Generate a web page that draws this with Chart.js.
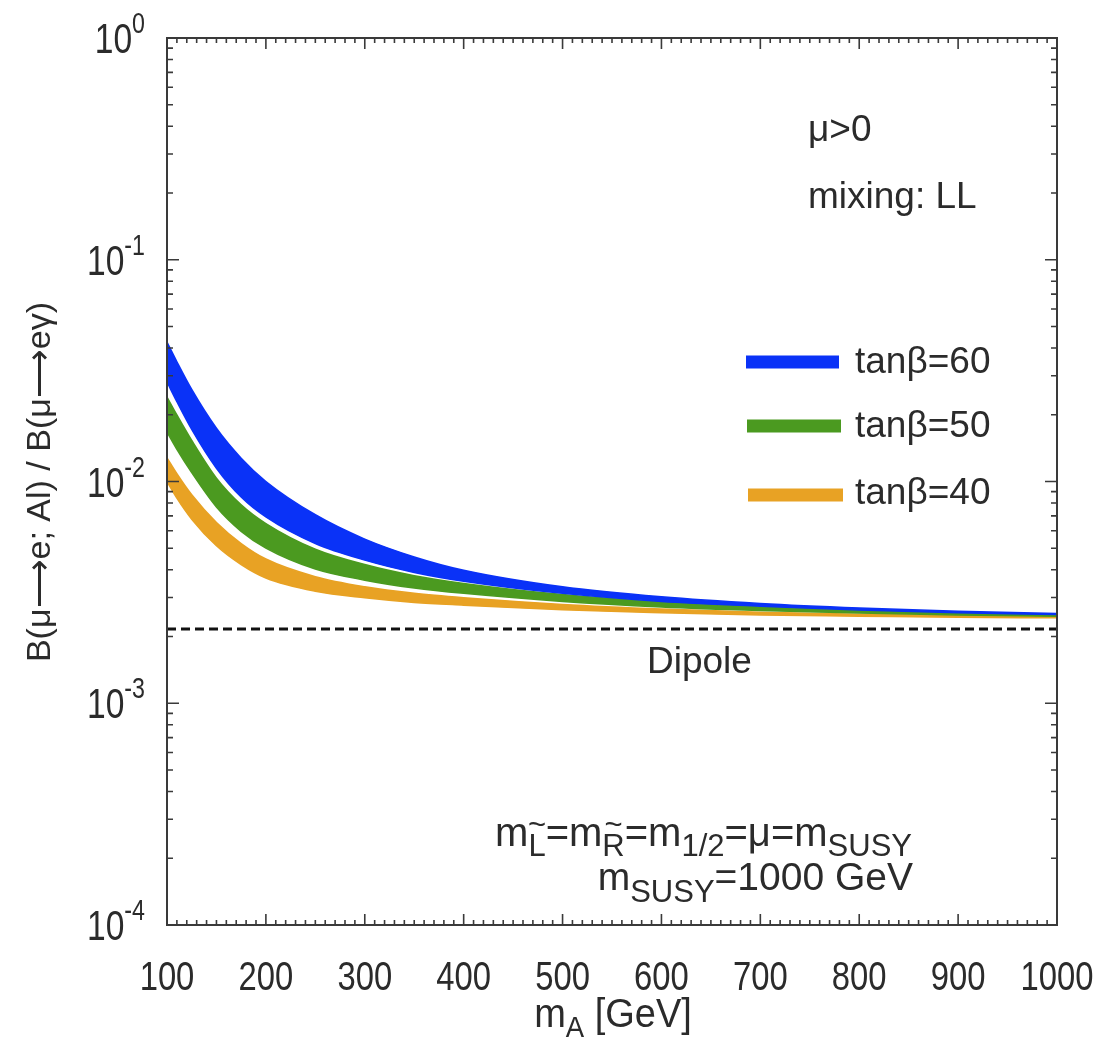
<!DOCTYPE html>
<html>
<head>
<meta charset="utf-8">
<script src="https://cdn.jsdelivr.net/npm/chart.js@4.4.0/dist/chart.umd.min.js"></script>
<style>
  body { margin: 0; background: #fff; }
  canvas { display: block; }
</style>
</head>
<body>
<canvas id="chart" width="1111" height="1041"></canvas>
<script>
// m_A values (GeV) where the band edges are sampled
const massGeV = [100, 110, 125, 150, 175, 200, 250, 300, 350, 400, 500, 600, 700, 800, 900, 1000];

// upper / lower edge of each tanβ band
const tb60Upper = [0.04256, 0.03467, 0.02600, 0.01738, 0.01274, 0.01000, 0.00708, 0.00550, 0.00457, 0.00398, 0.00335, 0.00302, 0.00282, 0.00269, 0.00260, 0.00254];
const tb60Lower = [0.02812, 0.02291, 0.01718, 0.01148, 0.00851, 0.00692, 0.00525, 0.00442, 0.00389, 0.00355, 0.00313, 0.00288, 0.00274, 0.00263, 0.00256, 0.00251];
const tb50Upper = [0.02404, 0.01995, 0.01531, 0.01035, 0.00785, 0.00646, 0.00495, 0.00422, 0.00376, 0.00347, 0.00309, 0.00286, 0.00272, 0.00263, 0.00256, 0.00251];
const tb50Lower = [0.01671, 0.01396, 0.01096, 0.00767, 0.00596, 0.00501, 0.00403, 0.00359, 0.00331, 0.00313, 0.00288, 0.00272, 0.00262, 0.00255, 0.00250, 0.00247];
const tb40Upper = [0.01279, 0.01084, 0.00871, 0.00653, 0.00525, 0.00447, 0.00372, 0.00335, 0.00313, 0.00299, 0.00279, 0.00266, 0.00257, 0.00252, 0.00249, 0.00247];
const tb40Lower = [0.01000, 0.00841, 0.00676, 0.00513, 0.00422, 0.00367, 0.00320, 0.00299, 0.00285, 0.00277, 0.00264, 0.00256, 0.00250, 0.00247, 0.00244, 0.00243];

// dipole-only limit
const dipoleRatio = 0.00216;

const xTickValues = [100, 200, 300, 400, 500, 600, 700, 800, 900, 1000];
const yDecades = [-4, -3, -2, -1, 0];

const bandLabels = ['tanβ=60', 'tanβ=50', 'tanβ=40'];
const bandColors = ['#0a32f7', '#4b9a20', '#e8a224'];

const textColor = '#2b2b2b';
const REG = '"Liberation Sans", Arial, sans-serif';

function pts(ys) {
  return ys.map((v, i) => ({ x: massGeV[i], y: v }));
}

function band(upper, lower, color) {
  const common = { borderColor: color, borderWidth: 1.5, pointRadius: 0, cubicInterpolationMode: 'monotone' };
  return [
    Object.assign({ data: pts(upper), backgroundColor: color, fill: '+1' }, common),
    Object.assign({ data: pts(lower), fill: false }, common)
  ];
}

// draws a run of text pieces (sub/superscripts, overlays) from a baseline
function drawRich(ctx, parts, x, y, align, sx) {
  sx = sx || 1;
  let w = 0;
  parts.forEach(p => {
    ctx.font = p.font;
    p.w = ctx.measureText(p.t).width;
    if (!p.over) w += p.w;
  });
  let start = x;
  if (align === 'right') start = x - w * sx;
  if (align === 'center') start = x - w * sx / 2;
  ctx.save();
  ctx.translate(start, y);
  ctx.scale(sx, 1);
  ctx.textAlign = 'left';
  ctx.textBaseline = 'alphabetic';
  let cx = 0, prevX = 0, prevW = 0;
  parts.forEach(p => {
    ctx.font = p.font;
    if (p.over) {
      ctx.fillText(p.t, prevX + (prevW - p.w) / 2, p.dy || 0);
      return;
    }
    ctx.fillText(p.t, cx, p.dy || 0);
    prevX = cx; prevW = p.w;
    cx += p.w;
  });
  ctx.restore();
}

const framePlugin = {
  id: 'frame',
  afterDraw(chart) {
    const { ctx, chartArea: a, scales: { x, y } } = chart;
    ctx.save();
    ctx.strokeStyle = '#3a3a3a';
    ctx.lineWidth = 2;
    ctx.strokeRect(a.left, a.top, a.right - a.left, a.bottom - a.top);

    // inward ticks on all four sides
    ctx.lineWidth = 1.6;
    ctx.beginPath();
    for (let m = 100; m <= 1000; m += 10) {
      const px = x.getPixelForValue(m);
      const len = m % 100 === 0 ? 11 : 5;
      ctx.moveTo(px, a.bottom); ctx.lineTo(px, a.bottom - len);
      ctx.moveTo(px, a.top); ctx.lineTo(px, a.top + len);
    }
    for (let d = -4; d <= 0; d++) {
      for (let k = 1; k <= 9; k++) {
        if (d === 0 && k > 1) break;
        const py = y.getPixelForValue(k * Math.pow(10, d));
        const len = k === 1 ? 12 : 6;
        ctx.moveTo(a.left, py); ctx.lineTo(a.left + len, py);
        ctx.moveTo(a.right, py); ctx.lineTo(a.right - len, py);
      }
    }
    ctx.stroke();

    ctx.fillStyle = textColor;

    // tick labels
    xTickValues.forEach(v => {
      drawRich(ctx, [{ t: String(v), font: '41px ' + REG }], x.getPixelForValue(v), 990, 'center', 0.8);
    });
    yDecades.forEach(d => {
      const py = y.getPixelForValue(Math.pow(10, d));
      drawRich(ctx, [
        { t: '10', font: '42px ' + REG },
        { t: String(d), font: '29px ' + REG, dy: -20 }
      ], 145, py + 15, 'right', 0.8);
    });

    // axis titles
    drawRich(ctx, [
      { t: 'm', font: '40px ' + REG },
      { t: 'A', font: '29px ' + REG, dy: 10 },
      { t: ' [GeV]', font: '40px ' + REG }
    ], 613, 1027, 'center', 0.95);

    ctx.save();
    ctx.translate(50, 482);
    ctx.rotate(-Math.PI / 2);
    drawRich(ctx, [{ t: 'B(μ⟶e; Al) / B(μ⟶eγ)', font: '34px ' + REG }], 0, 0, 'center', 1);
    ctx.restore();

    // annotations
    const f38 = '37px ' + REG;
    drawRich(ctx, [{ t: 'μ>0', font: f38 }], 808, 141, 'left');
    drawRich(ctx, [{ t: 'mixing: LL', font: f38 }], 808, 208, 'left');
    drawRich(ctx, [{ t: 'Dipole', font: f38 }], 647, 673, 'left');

    const big = '39px ' + REG;
    const sub = '31px ' + REG;
    drawRich(ctx, [
      { t: 'm', font: '40px ' + REG }, { t: 'L', font: sub, dy: 10 }, { t: '~', font: sub, dy: -11, over: true },
      { t: '=m', font: '40px ' + REG }, { t: 'R', font: sub, dy: 10 }, { t: '~', font: sub, dy: -11, over: true },
      { t: '=m', font: '40px ' + REG }, { t: '1/2', font: sub, dy: 10 },
      { t: '=μ=m', font: '40px ' + REG }, { t: 'SUSY', font: sub, dy: 10 }
    ], 912, 846, 'right');
    drawRich(ctx, [
      { t: 'm', font: big }, { t: 'SUSY', font: sub, dy: 12 }, { t: '=1000 GeV', font: big }
    ], 913, 890, 'right');

    // legend
    const legendY = [362, 426, 495];
    const legendText = [373, 437, 504];
    bandLabels.forEach((lab, i) => {
      ctx.strokeStyle = bandColors[i];
      ctx.lineWidth = 13;
      ctx.beginPath();
      ctx.moveTo(746 + i, legendY[i]);
      ctx.lineTo(839 + 2 * i, legendY[i]);
      ctx.stroke();
      drawRich(ctx, [{ t: lab, font: f38 }], 855, legendText[i], 'left');
    });
    ctx.restore();
  }
};

const datasets = [
  ...band(tb60Upper, tb60Lower, bandColors[0]),
  ...band(tb50Upper, tb50Lower, bandColors[1]),
  ...band(tb40Upper, tb40Lower, bandColors[2]),
  {
    data: [{ x: 100, y: dipoleRatio }, { x: 1000, y: dipoleRatio }],
    borderColor: '#111',
    borderWidth: 3,
    borderDash: [9, 5],
    pointRadius: 0,
    fill: false
  }
];

new Chart(document.getElementById('chart').getContext('2d'), {
  type: 'line',
  data: { datasets: datasets },
  options: {
    responsive: false,
    animation: false,
    layout: { padding: { top: 38, right: 54, left: 0, bottom: 0 } },
    plugins: { legend: { display: false }, tooltip: { enabled: false } },
    scales: {
      x: {
        type: 'linear', min: 100, max: 1000,
        grid: { display: false }, border: { display: false },
        ticks: { display: false },
        afterFit: s => { s.height = 116; }
      },
      y: {
        type: 'logarithmic', min: 1e-4, max: 1,
        grid: { display: false }, border: { display: false },
        ticks: { display: false },
        afterFit: s => { s.width = 167; }
      }
    }
  },
  plugins: [framePlugin]
});
</script>
</body>
</html>
